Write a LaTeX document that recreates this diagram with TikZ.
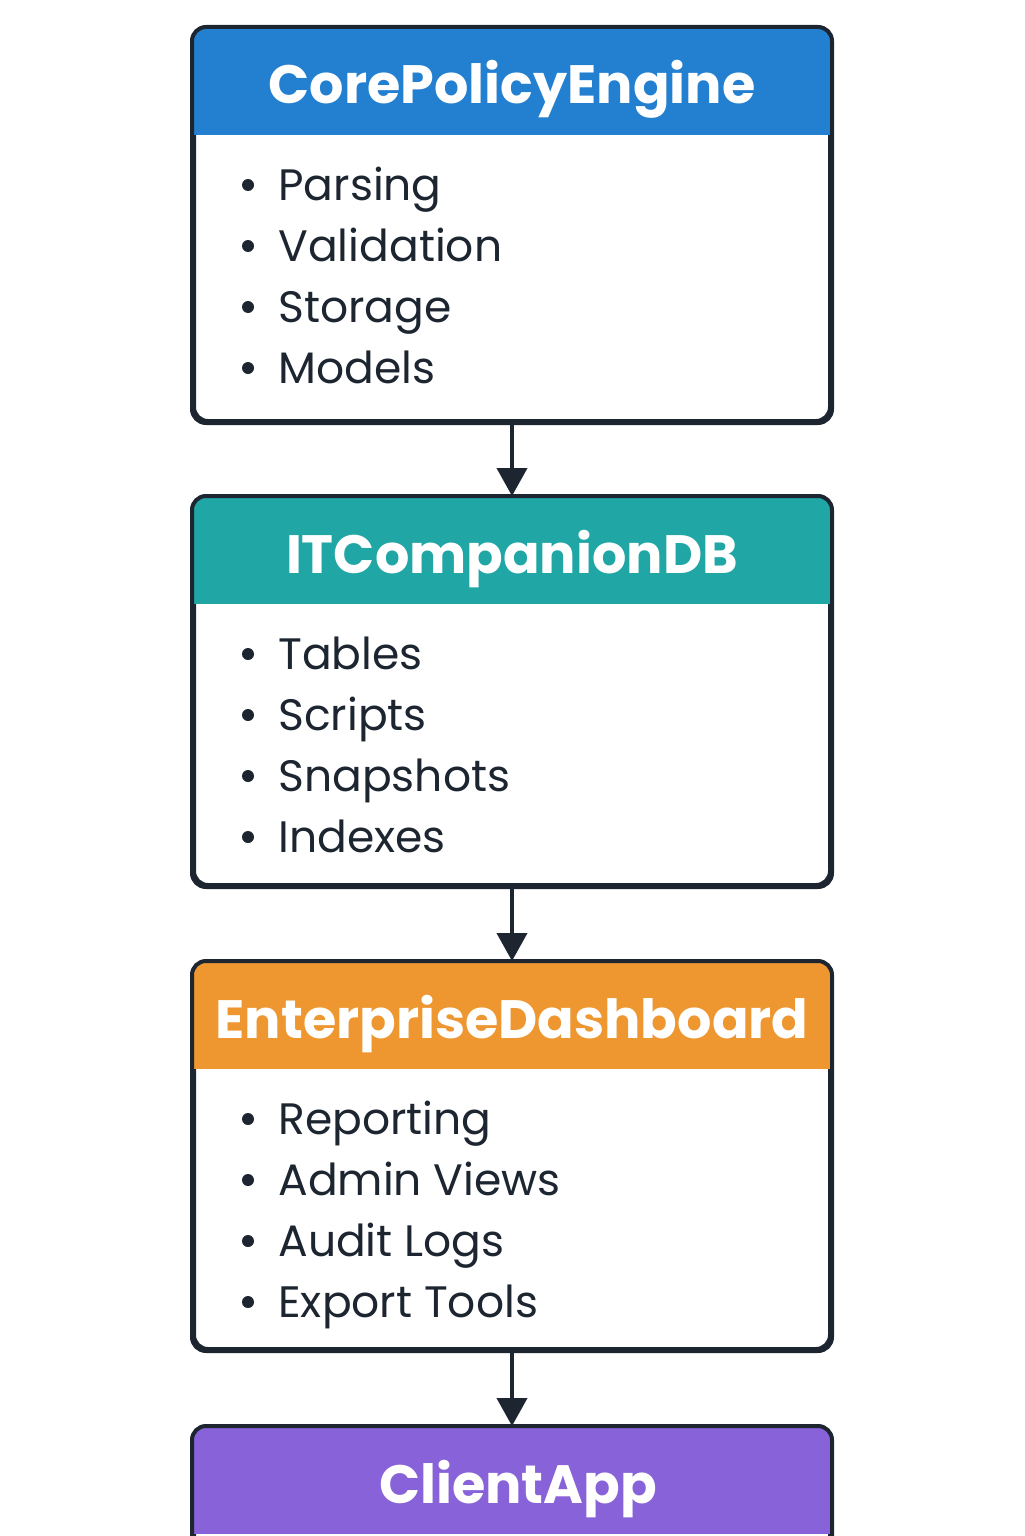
\documentclass[tikz,border=0pt]{standalone}
\usepackage{fontspec}
\setmainfont{Poppins}
\usetikzlibrary{arrows.meta, positioning}

\definecolor{coreblue}{HTML}{2380D0}
\definecolor{dbteal}{HTML}{20A6A4}
\definecolor{dboardorange}{HTML}{EE9630}
\definecolor{apppurple}{HTML}{8862D8}
\definecolor{inkdark}{HTML}{1C2530}

\tikzset{
  card/.style={draw=inkdark, line width=2pt, rounded corners=7pt,
    minimum width=318pt, inner sep=0pt},
  title/.style={text=white, anchor=base, inner sep=0pt, font=\fontsize{27}{32}\selectfont\bfseries},
  item/.style={text=inkdark, anchor=base west, inner sep=0pt,
    font=\fontsize{22}{26}\selectfont},
  link/.style={-{Triangle[width=15pt,length=14pt]}, draw=inkdark, line width=2pt}
}

\begin{document}
\begin{tikzpicture}[x=0.5pt,y=-0.5pt]
  \useasboundingbox (0,0) rectangle (1024,1536);

  % three cards with a coloured head and a list of parts
  \foreach \n/\col/\txt/\top/\h/\items in {
      core/coreblue/CorePolicyEngine/29/392/{Parsing,Validation,Storage,Models},
      db/dbteal/ITCompanionDB/498/387/{Tables,Scripts,Snapshots,Indexes},
      dboard/dboardorange/EnterpriseDashboard/963/386/{Reporting,Admin Views,Audit Logs,Export Tools}} {
    \node[card, minimum height=\h/2] (\n) at (512,\top+\h/2) {};
    \begin{scope}
      \clip[rounded corners=7pt] (\n.north west) rectangle (\n.south east);
      \fill[\col] (\n.north west) rectangle ([yshift=-54pt]\n.north east);
    \end{scope}
    \draw[inkdark, line width=2pt, rounded corners=7pt] (\n.north west) rectangle (\n.south east);
    \node[title] (\n-title) at (512,\top+75) {\txt};
    \foreach \entry [count=\k from 0] in \items {
      \fill[inkdark] (248,\top+156+61*\k) circle (3pt);
      \node[item] (\n-item\k) at (278,\top+171+61*\k) {\entry};
    }
  }

  % last card, cut off by the page
  \node[card, minimum height=196pt] (app) at (512,1428+196) {};
  \begin{scope}
    \clip[rounded corners=7pt] (app.north west) rectangle (app.south east);
    \fill[apppurple] (app.north west) rectangle ([yshift=-54pt]app.north east);
  \end{scope}
  \draw[inkdark, line width=2pt, rounded corners=7pt] (app.north west) rectangle (app.south east);
  \node[title] (app-title) at (518,1428+75) {ClientApp};

  % connectors
  \draw[link] (core) -- (db);
  \draw[link] (db) -- (dboard);
  \draw[link] (dboard) -- (app);
\end{tikzpicture}
\end{document}
